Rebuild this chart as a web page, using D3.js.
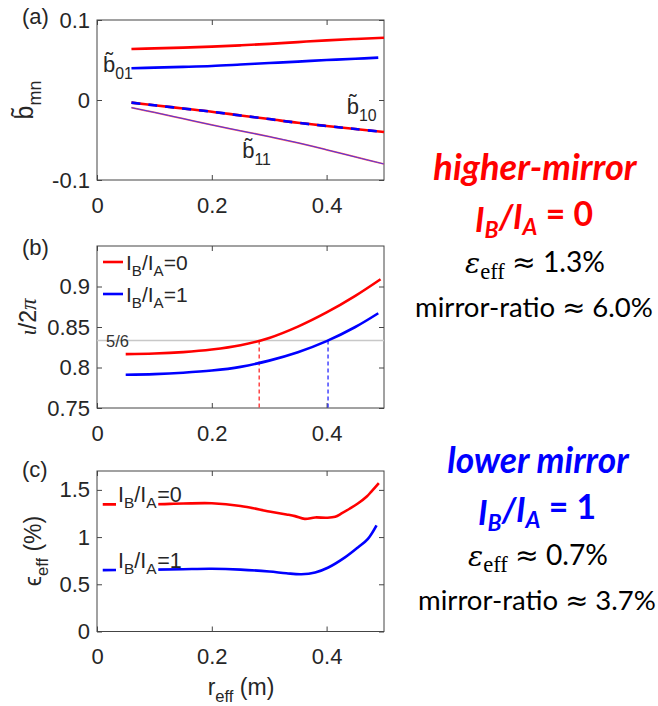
<!DOCTYPE html>
<html>
<head>
<meta charset="utf-8">
<script src="https://cdn.jsdelivr.net/npm/d3@7"></script>
<style>
  body { margin: 0; background: #fff; }
  text { font-family: "Liberation Sans", Arial, sans-serif; }
</style>
</head>
<body>
<svg id="fig" width="658" height="706"></svg>
<script>
// ---- panel (a): b_mn vs r_eff ----
var rA      = [0.06, 0.10, 0.15, 0.20, 0.25, 0.30, 0.35, 0.40, 0.45, 0.50];
var b01Red  = [0.0637, 0.0645, 0.0655, 0.0667, 0.0683, 0.0702, 0.0724, 0.0745, 0.0763, 0.0778];
var rA2     = [0.06, 0.10, 0.15, 0.20, 0.25, 0.30, 0.35, 0.40, 0.45, 0.49];
var b01Blue = [0.0396, 0.0405, 0.0414, 0.0425, 0.0443, 0.0462, 0.0480, 0.0500, 0.0515, 0.0530];
var b10     = [-0.0033, -0.0066, -0.0106, -0.0146, -0.0193, -0.0238, -0.0285, -0.0325, -0.0363, -0.0400];
var b11     = [-0.0096, -0.0155, -0.0233, -0.0312, -0.0385, -0.0458, -0.0535, -0.0622, -0.0712, -0.0800];

// ---- panel (b): iota/2pi ----
var rBRed    = [0.05, 0.10, 0.15, 0.20, 0.25, 0.30, 0.35, 0.40, 0.45, 0.494];
var iotaRed  = [0.8165, 0.8172, 0.8190, 0.8222, 0.8275, 0.8365, 0.8505, 0.8680, 0.8885, 0.9090];
var rBBlue   = [0.05, 0.10, 0.15, 0.20, 0.25, 0.30, 0.35, 0.40, 0.45, 0.49];
var iotaBlue = [0.7910, 0.7918, 0.7935, 0.7962, 0.8008, 0.8085, 0.8188, 0.8325, 0.8500, 0.8670];
var iotaRes  = 5 / 6;
var crossR   = [0.2825, 0.4025];

// ---- panel (c): eps_eff (%) ----
var rCRed   = [0.01, 0.05, 0.10, 0.15, 0.20, 0.25, 0.30, 0.33, 0.345, 0.362, 0.38, 0.40, 0.415, 0.426, 0.44, 0.455, 0.47, 0.478, 0.491];
var epsRed  = [1.347, 1.347, 1.348, 1.355, 1.358, 1.330, 1.272, 1.240, 1.222, 1.193, 1.208, 1.205, 1.215, 1.250, 1.300, 1.358, 1.430, 1.482, 1.572];
var rCBlue  = [0.01, 0.05, 0.10, 0.15, 0.20, 0.25, 0.30, 0.33, 0.356, 0.38, 0.403, 0.432, 0.455, 0.472, 0.487];
var epsBlue = [0.650, 0.652, 0.655, 0.660, 0.664, 0.655, 0.635, 0.617, 0.607, 0.625, 0.678, 0.785, 0.893, 0.982, 1.125];

var xTicks = [0, 0.2, 0.4];
var RED = "#ff0000", BLUE = "#0000ff";

var svg = d3.select("#fig");
var x = d3.scaleLinear().domain([0, 0.5]).range([97, 384]);
var yA = d3.scaleLinear().domain([-0.1, 0.1]).range([180, 20]);
var yB = d3.scaleLinear().domain([0.75, 0.95]).range([408, 246]);
var yC = d3.scaleLinear().domain([0, 1.7]).range([631.5, 471]);

function zip(xs, ys) { return xs.map(function(v, i) { return [v, ys[i]]; }); }

function lineFor(y) {
  return d3.line()
    .x(function(d) { return x(d[0]); })
    .y(function(d) { return y(d[1]); })
    .curve(d3.curveCatmullRom.alpha(0.5));
}

function drawAxes(y, yTicks) {
  var g = svg.append("g");
  var yb = y.range()[0], yt = y.range()[1];
  var x0 = x.range()[0], x1 = x.range()[1];
  g.append("g").attr("transform", "translate(0," + yb + ")")
    .call(d3.axisBottom(x).tickValues(xTicks).tickSizeInner(-5).tickSizeOuter(0).tickPadding(17).tickFormat(String));
  g.append("g").attr("transform", "translate(0," + yt + ")")
    .call(d3.axisTop(x).tickValues(xTicks).tickSizeInner(-5).tickSizeOuter(0).tickFormat(""));
  g.append("g").attr("transform", "translate(" + x0 + ",0)")
    .call(d3.axisLeft(y).tickValues(yTicks).tickSizeInner(-5).tickSizeOuter(0).tickPadding(7).tickFormat(String));
  g.append("g").attr("transform", "translate(" + x1 + ",0)")
    .call(d3.axisRight(y).tickValues(yTicks).tickSizeInner(-5).tickSizeOuter(0).tickFormat(""));
  g.selectAll(".domain").remove();
  g.selectAll(".tick line").attr("stroke", "#444");
  g.selectAll("g").attr("font-family", null).attr("font-size", null);
  g.selectAll("text").attr("font-size", 22).attr("fill", "#262626");
  g.append("rect")
    .attr("x", x0).attr("y", yt).attr("width", x1 - x0).attr("height", yb - yt)
    .attr("fill", "none").attr("stroke", "#444").attr("stroke-width", 1);
  return g;
}

// text with subscripts: parts = [[text, isSub], ...]
function richText(parent, px, py, parts, size) {
  var t = parent.append("text").attr("x", px).attr("y", py).attr("font-size", size).attr("fill", "#262626");
  var down = false;
  parts.forEach(function(p) {
    var s = t.append("tspan").text(p[0]);
    if (p[1]) s.attr("font-size", "0.72em");
    if (p[1] && !down) { s.attr("dy", size * 0.3); down = true; }
    else if (!p[1] && down) { s.attr("dy", -size * 0.3); down = false; }
  });
  return t;
}

/* ------- PANEL (a) ------- */
drawAxes(yA, [-0.1, 0, 0.1]);
var la = lineFor(yA);
var gA = svg.append("g");
gA.append("path").attr("d", la(zip(rA, b01Red))).attr("fill", "none").attr("stroke", RED).attr("stroke-width", 2.6);
gA.append("path").attr("d", la(zip(rA2, b01Blue))).attr("fill", "none").attr("stroke", BLUE).attr("stroke-width", 2.6);
gA.append("path").attr("d", la(zip(rA, b10))).attr("fill", "none").attr("stroke", RED).attr("stroke-width", 2.6);
gA.append("path").attr("d", la(zip(rA, b10))).attr("fill", "none").attr("stroke", BLUE).attr("stroke-width", 2.6)
  .attr("stroke-dasharray", "9,8");
gA.append("path").attr("d", la(zip(rA, b11))).attr("fill", "none").attr("stroke", "#ff6060").attr("stroke-width", 1.8);
gA.append("path").attr("d", la(zip(rA, b11))).attr("fill", "none").attr("stroke", "#3a2cf0").attr("stroke-width", 0.9);

richText(svg, x(0.0105), yA(0.035), [["b\u0303", false], ["01", true]], 22);
richText(svg, x(0.435), yA(-0.0175), [["b\u0303", false], ["10", true]], 22);
richText(svg, x(0.253), yA(-0.0725), [["b\u0303", false], ["11", true]], 22);

svg.append("text").attr("x", 22).attr("y", 24).attr("font-size", 22).attr("fill", "#262626").text("(a)");
richText(svg.append("g").attr("transform", "translate(33,100) rotate(-90)"), 0, 0,
  [["b\u0303", false], ["mn", true]], 25).attr("text-anchor", "middle");

/* ------- PANEL (b) ------- */
drawAxes(yB, [0.75, 0.8, 0.85, 0.9]);
var lb = lineFor(yB);
var gB = svg.append("g");
gB.append("line").attr("x1", x(0)).attr("x2", x(0.5)).attr("y1", yB(iotaRes)).attr("y2", yB(iotaRes))
  .attr("stroke", "#c8c8c8").attr("stroke-width", 1.6);
svg.append("text").attr("x", 106).attr("y", yB(iotaRes) + 6).attr("font-size", 16.5).attr("fill", "#333").text("5/6");
gB.append("line").attr("x1", x(crossR[0])).attr("x2", x(crossR[0])).attr("y1", yB(iotaRes)).attr("y2", yB(0.75))
  .attr("stroke", RED).attr("stroke-width", 1.1).attr("stroke-dasharray", "4,3");
gB.append("line").attr("x1", x(crossR[1])).attr("x2", x(crossR[1])).attr("y1", yB(iotaRes)).attr("y2", yB(0.75))
  .attr("stroke", BLUE).attr("stroke-width", 1.1).attr("stroke-dasharray", "4,3");
gB.append("path").attr("d", lb(zip(rBRed, iotaRed))).attr("fill", "none").attr("stroke", RED).attr("stroke-width", 2.6);
gB.append("path").attr("d", lb(zip(rBBlue, iotaBlue))).attr("fill", "none").attr("stroke", BLUE).attr("stroke-width", 2.6);

// legend
[[RED, 262, "0"], [BLUE, 294, "1"]].forEach(function(l) {
  svg.append("line").attr("x1", 103).attr("x2", 123).attr("y1", l[1]).attr("y2", l[1])
    .attr("stroke", l[0]).attr("stroke-width", 2.6);
  richText(svg, 126, l[1] + 8, [["I", false], ["B", true], ["/I", false], ["A", true], ["=" + l[2], false]], 21);
});

svg.append("text").attr("x", 22).attr("y", 255).attr("font-size", 22).attr("fill", "#262626").text("(b)");
var yl = svg.append("text").attr("transform", "translate(36,317) rotate(-90)").attr("text-anchor", "middle")
  .attr("font-size", 23).attr("fill", "#262626");
yl.append("tspan").style("font-family", "'Liberation Serif', serif").style("font-style", "italic").text("\u03b9");
yl.append("tspan").text("/2");
yl.append("tspan").style("font-family", "'Liberation Serif', serif").style("font-style", "italic").text("\u03c0");

/* ------- PANEL (c) ------- */
drawAxes(yC, [0, 0.5, 1, 1.5]);
var lc = lineFor(yC);
var gC = svg.append("g");
gC.append("path").attr("d", lc(zip(rCRed, epsRed))).attr("fill", "none").attr("stroke", RED).attr("stroke-width", 2.6);
gC.append("path").attr("d", lc(zip(rCBlue, epsBlue))).attr("fill", "none").attr("stroke", BLUE).attr("stroke-width", 2.6);

[[epsRed[0], "0"], [epsBlue[0], "1"]].forEach(function(l) {
  var by = yC(l[0]) - 2.5;
  var bg = svg.append("rect").attr("fill", "#fff");
  var t1 = richText(svg, 118, by, [["I", false], ["B", true], ["/I", false], ["A", true]], 21.5);
  var bb = t1.node().getBBox();
  bg.attr("x", bb.x - 2).attr("y", bb.y).attr("width", bb.width + 3).attr("height", bb.height);
  svg.append("text").attr("x", bb.x + bb.width).attr("y", by).attr("font-size", 21.5).attr("fill", "#262626").text("=" + l[1]);
});

svg.append("text").attr("x", 22).attr("y", 477).attr("font-size", 22).attr("fill", "#262626").text("(c)");
richText(svg.append("g").attr("transform", "translate(41,551) rotate(-90)"), 0, 0,
  [["\u03f5", false], ["eff", true], [" (%)", false]], 23).attr("text-anchor", "middle");
richText(svg, 241, 695, [["r", false], ["eff", true], [" (m)", false]], 23).attr("text-anchor", "middle");

/* ------- RIGHT-HAND TEXT ------- */
// scale a text's font-size so its drawn width matches the reference width
function fitWidth(t, w) {
  var s = +t.attr("font-size");
  var bw = t.node().getBBox().width;
  t.attr("font-size", s * w / bw);
  return t;
}

function sideBlock(cx, y0, title, titleW, ratio, eps, mirror, col) {
  var h = svg.append("text").attr("x", cx).attr("y", y0).attr("text-anchor", "middle")
    .style("font-family", "Lato, sans-serif").style("font-weight", "bold").style("font-style", "italic")
    .attr("font-size", 30).attr("fill", col).text(title);
  fitWidth(h, titleW);

  var t = svg.append("text").attr("x", cx - 1).attr("y", y0 + 52).attr("text-anchor", "middle")
    .style("font-family", "Lato, sans-serif").style("font-weight", "bold")
    .attr("font-size", 30).attr("fill", col);
  t.append("tspan").style("font-style", "italic").text("I");
  t.append("tspan").style("font-style", "italic").attr("font-size", "0.68em").attr("dy", "0.28em").text("B");
  t.append("tspan").style("font-style", "italic").attr("dy", "-0.28em").text("/I");
  t.append("tspan").style("font-style", "italic").attr("font-size", "0.68em").attr("dy", "0.28em").text("A");
  t.append("tspan").attr("dy", "-0.28em").text(" = " + ratio);
  fitWidth(t, 118);

  var e = svg.append("text").attr("x", cx).attr("y", y0 + 93).attr("text-anchor", "middle")
    .attr("font-size", 28).attr("fill", "#000").style("font-family", "Lato, sans-serif");
  e.append("tspan").style("font-family", "'DejaVu Serif', serif").style("font-style", "italic").text("\u03b5");
  e.append("tspan").style("font-family", "'Liberation Serif', serif").attr("font-size", "0.8em").attr("dy", "0.25em").text("eff");
  e.append("tspan").attr("dy", "-0.25em").text("  ");
  e.append("tspan").style("font-family", "'DejaVu Sans', sans-serif").text("\u2248");
  e.append("tspan").text(" " + eps + "%");
  fitWidth(e, 140);

  var m = svg.append("text").attr("x", cx - 1).attr("y", y0 + 137).attr("text-anchor", "middle")
    .style("font-family", "Lato, sans-serif").attr("font-size", 28).attr("fill", "#000");
  m.append("tspan").text("mirror-ratio ");
  m.append("tspan").style("font-family", "'DejaVu Sans', sans-serif").text("\u2248");
  m.append("tspan").text(" " + mirror + "%");
  fitWidth(m, 238);
}
sideBlock(535, 180, "higher-mirror", 205, "0", "1.3", "6.0", RED);
sideBlock(538, 473, "lower mirror", 183, "1", "0.7", "3.7", BLUE);
</script>
</body>
</html>
